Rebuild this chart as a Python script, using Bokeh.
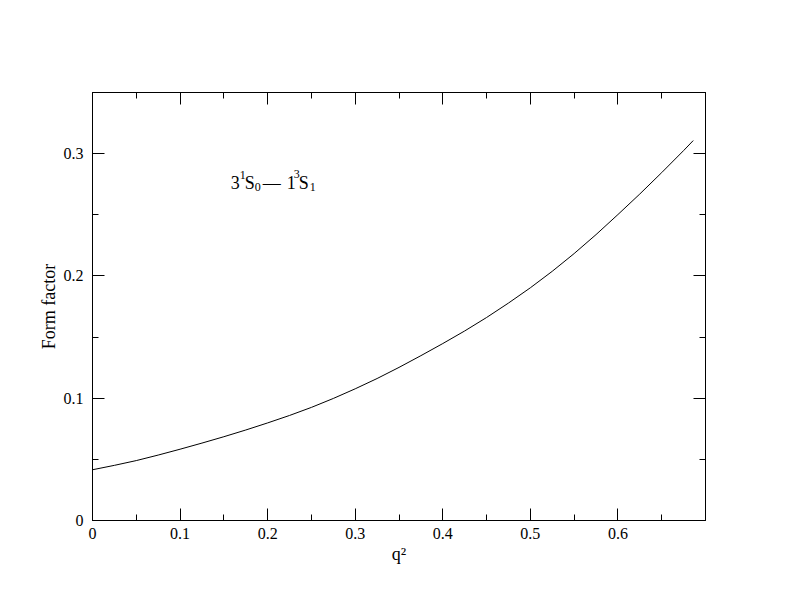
from bokeh.plotting import figure
from bokeh.models import Range1d, LinearAxis, FixedTicker, Label
from bokeh.embed import file_html
from bokeh.resources import INLINE

# ---- data ----
q2 = [0.0, 0.025, 0.05, 0.075, 0.1, 0.125, 0.15, 0.175, 0.2, 0.225, 0.25, 0.275, 0.3,
      0.325, 0.35, 0.375, 0.4, 0.425, 0.45, 0.475, 0.5, 0.525, 0.55, 0.575, 0.6,
      0.625, 0.65, 0.675, 0.686]
form_factor = [0.0415, 0.0451, 0.0490, 0.0535, 0.0583, 0.0633, 0.0685, 0.0740, 0.0798,
               0.0859, 0.0925, 0.0998, 0.1077, 0.1161, 0.1252, 0.1348, 0.1447, 0.1550,
               0.1660, 0.1778, 0.1903, 0.2038, 0.2183, 0.2338, 0.2502, 0.2670, 0.2845,
               0.3025, 0.3107]

x_ticks = [0.0, 0.1, 0.2, 0.3, 0.4, 0.5, 0.6]
x_tick_labels = ["0", "0.1", "0.2", "0.3", "0.4", "0.5", "0.6"]
y_ticks = [0.0, 0.1, 0.2, 0.3]
y_tick_labels = ["0", "0.1", "0.2", "0.3"]

x_label = "q\u00b2"
y_label = "Form factor"

# annotation pieces: (text, is_script, x offset px, y offset px)
annot_x, annot_y = 0.158, 0.276
annot_pieces = [
    ("3", False, 0, 0),
    ("1", True, 9, 8),
    ("S", False, 14, 0),
    ("0", True, 24, -4),
    ("\u2014", False, 32, 0),
    ("1", False, 56, 0),
    ("3", True, 63, 9),
    ("S", False, 68, 0),
    ("1", True, 79, -4),
]

FONT = "Liberation Serif"

p = figure(width=784, height=604, x_range=Range1d(0, 0.7), y_range=Range1d(0, 0.35),
           output_backend="svg", toolbar_location=None,
           min_border_left=92, min_border_right=79, min_border_top=92, min_border_bottom=84)
p.grid.visible = False
p.outline_line_color = "black"
p.background_fill_color = "white"
p.border_fill_color = "white"

p.line(q2, form_factor, line_color="black", line_width=1)


def minors(t):
    return [(a + b) / 2 for a, b in zip(t[:-1], t[1:])] + [t[-1] + (t[1] - t[0]) / 2]


def style(ax, ticks, labels, show):
    ax.ticker = FixedTicker(ticks=ticks, minor_ticks=minors(ticks))
    ax.major_label_overrides = {t: (l if show else "") for t, l in zip(ticks, labels)}
    ax.major_tick_in = 12
    ax.major_tick_out = 0
    ax.minor_tick_in = 6
    ax.minor_tick_out = 0
    ax.axis_line_color = "black"
    ax.major_tick_line_color = "black"
    ax.minor_tick_line_color = "black"
    ax.major_label_text_font = FONT
    ax.major_label_text_font_size = "16px"
    ax.major_label_text_color = "black"
    ax.axis_label_text_font = FONT
    ax.axis_label_text_font_size = "18px"
    ax.axis_label_text_font_style = "normal"
    ax.axis_label_text_color = "black"


style(p.xaxis[0], x_ticks, x_tick_labels, True)
style(p.yaxis[0], y_ticks, y_tick_labels, True)
p.xaxis[0].major_label_standoff = 7
p.yaxis[0].major_label_standoff = 9
p.xaxis[0].axis_label = x_label
p.yaxis[0].axis_label = y_label
p.xaxis[0].axis_label_standoff = 2
p.yaxis[0].axis_label_standoff = 2

top = LinearAxis()
right = LinearAxis()
style(top, x_ticks, x_tick_labels, False)
style(right, y_ticks, y_tick_labels, False)
p.add_layout(top, "above")
p.add_layout(right, "right")

for txt, script, dx, dy in annot_pieces:
    p.add_layout(Label(x=annot_x, y=annot_y, x_offset=dx, y_offset=dy, text=txt,
                       text_font=FONT, text_font_size="12px" if script else "18px",
                       text_color="black", text_baseline="alphabetic", text_align="left"))

open("out.html", "w").write(file_html(p, INLINE))
